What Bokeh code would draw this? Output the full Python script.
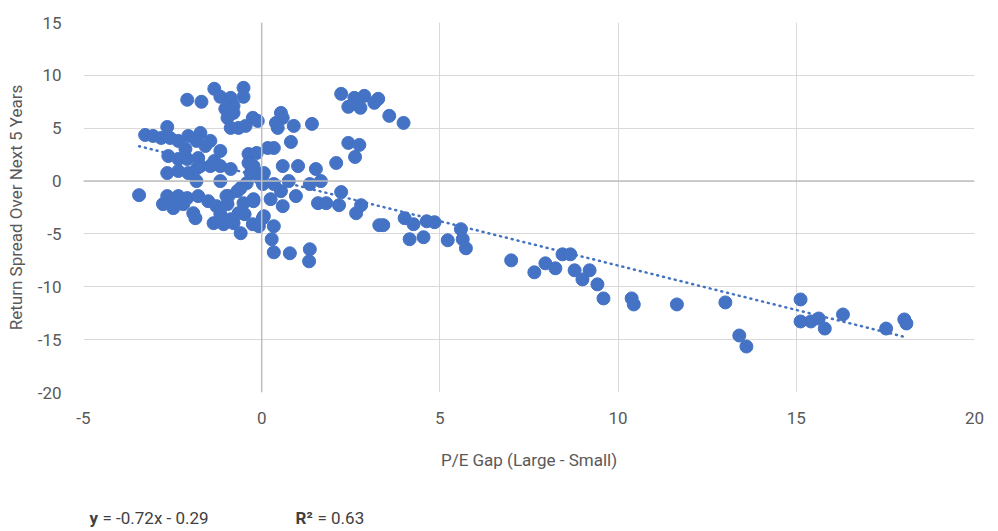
from bokeh.plotting import figure
from bokeh.models import Span, FixedTicker, Range1d
from bokeh.layouts import column
from bokeh.core.properties import value
from bokeh.embed import file_html
from bokeh.resources import INLINE

# ---- data ----
pe_gap = [
    -3.44, -3.27, -3.05, -2.82, -2.65, -2.57, -2.34, -2.06, -1.72, -1.83,
    -1.58, -1.44, -1.16, -2.62, -2.34, -2.09, -1.78, -1.72, -2.65, -2.34,
    -2.06, -1.81, -1.44, -1.16, -0.87, -1.83, -1.33, -2.09, -1.69, -1.33,
    -1.16, -0.87, -0.51, -0.51, -0.79, -1.02, -0.96, -0.87, -0.65, -0.45,
    -0.25, -0.11, -0.79, -0.37, -0.14, -0.31, 0.06, 0.17, -0.23, -0.42,
    -2.65, -2.77, -2.48, -2.34, -2.09, -1.78, -1.50, -1.92, -1.86, -1.35,
    -1.16, -0.96, -0.93, -1.07, -0.79, -0.59, -0.65, -0.68, -0.51, -0.23,
    0.06, -0.25, -0.08, 0.28, 0.34, -2.20, -2.43, -0.87, -1.27, -0.48,
    0.54, 0.59, 0.40, 0.45, 0.90, 1.41, 0.82, 0.34, 0.59, 1.02,
    1.52, 2.09, 2.23, 2.60, 2.88, 3.27, 3.16, 2.43, 2.77, 3.58,
    3.98, 2.43, 2.74, 2.62, 2.23, 1.58, 1.81, 2.17, 2.65, 2.79,
    1.35, 1.66, 0.96, 0.54, 0.25, 0.59, 0.76, 0.34, 0.03, 0.34,
    0.79, 1.35, 1.33, 3.41, 3.30, 4.01, 4.15, 4.26, 4.63, 4.85,
    4.54, 5.22, 5.59, 5.64, 5.73, 7.00, 7.65, 7.96, 8.24, 8.44,
    8.66, 8.78, 9.20, 9.00, 9.42, 9.59, 10.38, 10.44, 11.65, 13.01,
    13.40, 13.60, 15.12, 15.12, 15.41, 15.63, 15.80, 16.31, 17.52, 18.03,
    18.09, -1.16, 0.03, -0.59, -0.99, -0.23, -1.35, -0.37, -2.14, -0.05,
]
return_spread = [
    -1.33, 4.36, 4.27, 4.08, 5.12, 4.08, 3.80, 4.27, 4.55, 3.80,
    3.32, 3.80, 2.85, 2.37, 2.09, 2.09, 2.18, 1.42, 0.76, 0.95,
    0.76, 1.23, 1.42, 1.42, 1.14, 0.00, 1.90, 7.69, 7.50, 8.73,
    7.97, 7.87, 8.82, 7.97, 7.12, 6.83, 5.98, 5.03, 5.03, 5.22,
    5.98, 5.69, 6.45, 2.56, 2.66, 0.76, 0.76, 3.13, 1.42, -0.19,
    -1.42, -2.18, -2.56, -1.42, -1.61, -1.42, -1.90, -3.04, -3.51, -3.98,
    -3.13, -2.18, -1.42, -4.08, -3.98, -4.93, -3.04, -0.95, -2.09, -1.71,
    -3.32, -4.08, -4.27, -5.50, -6.74, -2.18, -1.90, -3.61, -2.37, -3.13,
    6.45, 5.98, 5.50, 5.03, 5.22, 5.41, 3.70, 3.13, 1.42, 1.42,
    1.14, 1.71, 8.25, 7.87, 8.06, 7.78, 7.40, 7.02, 6.93, 6.17,
    5.50, 3.61, 3.42, 2.28, -1.04, -2.09, -2.09, -2.28, -3.04, -2.28,
    -0.28, 0.00, -1.42, -0.95, -1.71, -2.37, 0.00, -0.28, -3.51, -4.27,
    -6.83, -6.45, -7.59, -4.17, -4.17, -3.51, -5.50, -4.08, -3.80, -3.89,
    -5.31, -5.60, -4.55, -5.50, -6.36, -7.50, -8.63, -7.78, -8.25, -6.93,
    -6.93, -8.44, -8.44, -9.30, -9.77, -11.10, -11.10, -11.67, -11.67, -11.48,
    -14.61, -15.65, -11.20, -13.28, -13.28, -13.00, -13.95, -12.62, -13.95, -13.09,
    -13.47, 0.00, -0.28, -0.66, -1.42, -1.90, 1.61, 1.71, 3.04, 0.25,
]

x_ticks = [-5, 0, 5, 10, 15, 20]
y_ticks = [-20, -15, -10, -5, 0, 5, 10, 15]

# dotted trend line as drawn in the picture
trend_slope = -0.84
trend_intercept = 0.41

eq_parts = ["y", "= -0.72x - 0.29", "R²", "= 0.63"]
eq_bold = [True, False, True, False]

x_title = "P/E Gap (Large - Small)"
y_title = "Return Spread Over Next 5 Years"

BLUE = "#4472C4"
GRID = "#D9D9D9"
ZERO = "#BFBFBF"
TXT = "#595959"
FONT = "Roboto"
FS = "17px"

LEFT, RIGHT = 83, 24

p = figure(
    width=998, height=492,
    x_range=Range1d(-5, 20), y_range=Range1d(-20, 15),
    output_backend="svg", toolbar_location=None,
    min_border_left=LEFT, min_border_right=RIGHT,
    min_border_top=22, min_border_bottom=100,
)
p.outline_line_color = None

p.xaxis.ticker = FixedTicker(ticks=x_ticks)
p.yaxis.ticker = FixedTicker(ticks=y_ticks)
p.xaxis.major_label_overrides = {t: str(t) for t in x_ticks}
p.yaxis.major_label_overrides = {t: str(t) for t in y_ticks}
for g in (p.xgrid, p.ygrid):
    g.grid_line_color = GRID
    g.grid_line_width = 1

for ax in (p.xaxis, p.yaxis):
    ax.axis_line_color = None
    ax.major_tick_line_color = None
    ax.minor_tick_line_color = None
    ax.major_label_text_font = FONT
    ax.major_label_text_font_size = FS
    ax.major_label_text_color = TXT
    ax.axis_label_text_font = FONT
    ax.axis_label_text_font_size = FS
    ax.axis_label_text_color = TXT
    ax.axis_label_text_font_style = "normal"

p.xaxis.axis_label = x_title
p.yaxis.axis_label = y_title
p.xaxis.major_label_standoff = 13
p.xaxis.axis_label_standoff = 23
p.yaxis.major_label_standoff = 16
p.yaxis.axis_label_standoff = 9

p.add_layout(Span(location=0, dimension="height", line_color=ZERO, line_width=1.5))
p.add_layout(Span(location=0, dimension="width", line_color=ZERO, line_width=1.5))

p.scatter(pe_gap, return_spread, size=13, fill_color=BLUE, line_color=BLUE,
          line_width=1)

tx = [min(pe_gap), max(pe_gap)]
ty = [trend_slope * v + trend_intercept for v in tx]
p.line(tx, ty, line_color=BLUE, line_width=2.5, line_dash="1 5", line_cap="round")

# strip below the chart with the regression equation (x in page pixels)
p2 = figure(width=998, height=39, x_range=Range1d(LEFT, 998 - RIGHT),
            y_range=Range1d(0, 39),
            output_backend="svg", toolbar_location=None,
            min_border_left=LEFT, min_border_right=RIGHT,
            min_border_top=0, min_border_bottom=0,
            x_axis_type=None, y_axis_type=None)
p2.outline_line_color = None
p2.xgrid.visible = False
p2.ygrid.visible = False
eq_x = [89, 102, 295, 317]
for xx, txt, b in zip(eq_x, eq_parts, eq_bold):
    p2.text(x=[xx], y=[14], text=[txt], text_font=value(FONT), text_font_size=FS,
            text_color="#404040", text_baseline="middle",
            text_font_style="bold" if b else "normal")

layout = column(p, p2, spacing=0)
open("out.html", "w").write(file_html(layout, INLINE))
